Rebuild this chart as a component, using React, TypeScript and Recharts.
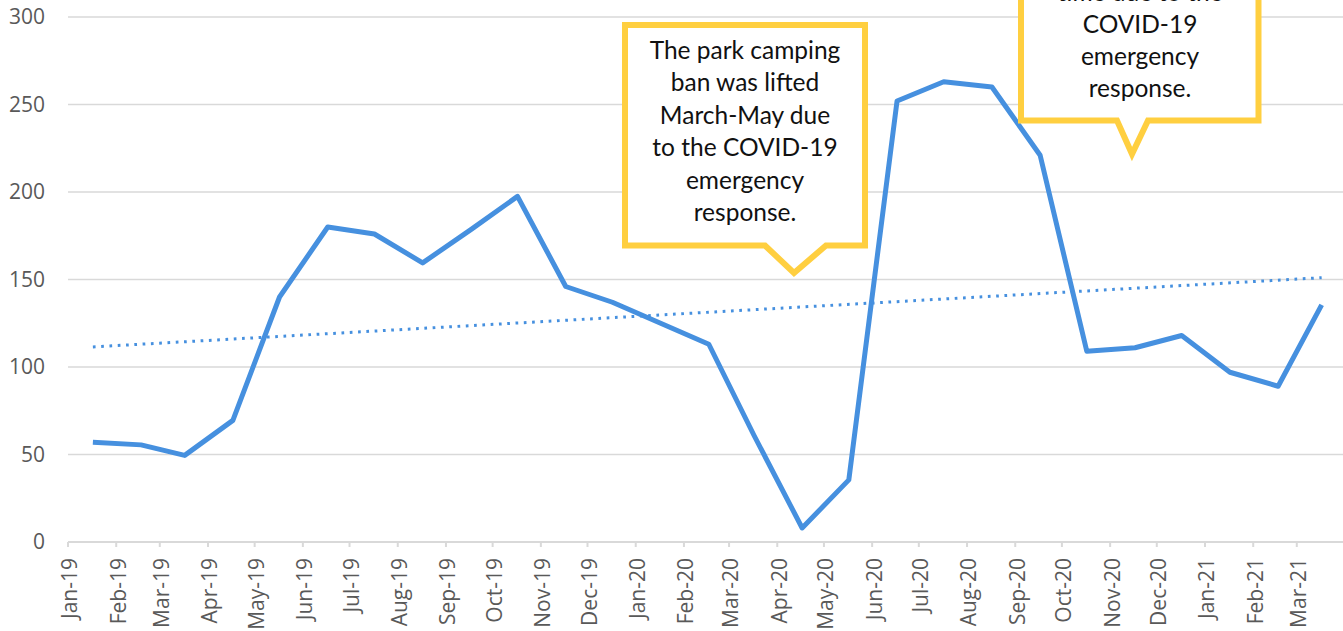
import React from 'react';
import { LineChart, Line, XAxis, YAxis, CartesianGrid } from 'recharts';

// Monthly camping counts, Jan-2019 .. Mar-2021 (points plotted mid-month on a date axis)
const months = [
  'Jan-19', 'Feb-19', 'Mar-19', 'Apr-19', 'May-19', 'Jun-19', 'Jul-19', 'Aug-19', 'Sep-19',
  'Oct-19', 'Nov-19', 'Dec-19', 'Jan-20', 'Feb-20', 'Mar-20', 'Apr-20', 'May-20', 'Jun-20',
  'Jul-20', 'Aug-20', 'Sep-20', 'Oct-20', 'Nov-20', 'Dec-20', 'Jan-21', 'Feb-21', 'Mar-21',
];
const visits = [
  57, 55.5, 49.5, 69.5, 140, 180, 176, 159.5, 178.5,
  197.5, 146, 137, 125, 113, 61, 8, 35.5, 252,
  263, 260, 221, 109, 111, 118, 97, 89, 135.5,
];
const yTicks = [0, 50, 100, 150, 200, 250, 300];
const axisEnd = 'Apr-21';
const pointDay = 17;

const callout1 = ['The park camping', 'ban was lifted', 'March-May due', 'to the COVID-19', 'emergency', 'response.'];
const callout2 = ['time due to the', 'COVID-19', 'emergency', 'response.'];

const MONTH_NAMES = ['Jan', 'Feb', 'Mar', 'Apr', 'May', 'Jun', 'Jul', 'Aug', 'Sep', 'Oct', 'Nov', 'Dec'];
const ORIGIN = Date.UTC(2019, 0, 1);

function dayOf(label: string, day: number) {
  const [m, y] = label.split('-');
  return (Date.UTC(2000 + Number(y), MONTH_NAMES.indexOf(m), day) - ORIGIN) / 86400000;
}

const data = months.map((m, i) => ({ month: m, day: dayOf(m, pointDay), value: visits[i] }));
const monthTicks = months.map((m) => dayOf(m, 1));
const tickLabel: Record<number, string> = {};
months.forEach((m, i) => (tickLabel[monthTicks[i]] = m));

// linear trendline (least squares)
const n = data.length;
const mx = data.reduce((s, d) => s + d.day, 0) / n;
const my = data.reduce((s, d) => s + d.value, 0) / n;
const slope =
  data.reduce((s, d) => s + (d.day - mx) * (d.value - my), 0) /
  data.reduce((s, d) => s + (d.day - mx) ** 2, 0);
const trend = [data[0], data[n - 1]].map((d) => ({ day: d.day, trend: my + slope * (d.day - mx) }));

const BLUE = '#4690DF';
const GOLD = '#FFCF40';
const OFFSET = 60;

function MonthTick({ x, y, payload }: any) {
  const ty = y + 9;
  return (
    <text
      x={x}
      y={ty}
      transform={`rotate(-90, ${x}, ${ty})`}
      textAnchor="end"
      dy="0.45em"
      fontSize={21}
      fontFamily="Open Sans"
      fill="#595959"
    >
      {tickLabel[payload.value]}
    </text>
  );
}

export default function App() {
  return (
    <div style={{ position: 'absolute', left: 0, top: 0, width: 1343, height: 631, overflow: 'hidden', background: '#fff' }}>
      <div style={{ position: 'absolute', left: 0, top: -OFFSET }}>
        <LineChart width={1360} height={631 + OFFSET} data={data} margin={{ top: 17 + OFFSET, right: 15, left: 0, bottom: 0 }}>
          <CartesianGrid vertical={false} stroke="#D9D9D9" strokeWidth={1.5} />
          <XAxis
            type="number"
            dataKey="day"
            domain={[0, dayOf(axisEnd, 1)]}
            ticks={monthTicks}
            interval={0}
            height={89}
            tick={<MonthTick />}
            tickSize={5}
            axisLine={{ stroke: '#D9D9D9', strokeWidth: 2 }}
            tickLine={{ stroke: '#D9D9D9', strokeWidth: 2 }}
            allowDataOverflow
          />
          <YAxis
            width={68}
            domain={[0, 300]}
            ticks={yTicks}
            interval={0}
            axisLine={false}
            tickLine={false}
            tickSize={0}
            tickMargin={23}
            tick={{ fill: '#595959', fontSize: 21, fontFamily: 'Open Sans' }}
          />
          <Line
            dataKey="value"
            stroke={BLUE}
            strokeWidth={5}
            dot={false}
            strokeLinejoin="round"
            isAnimationActive={false}
          />
          <Line
            data={trend}
            dataKey="trend"
            stroke={BLUE}
            strokeWidth={3}
            strokeDasharray="2.7 5.6"
            dot={false}
            isAnimationActive={false}
          />
        </LineChart>
      </div>

      {/* Callouts */}
      <svg width={1343} height={631} style={{ position: 'absolute', left: 0, top: 0 }}>
        <path
          d="M625 25 L865 25 L865 245.5 L826 245.5 L794 273 L765 245.5 L625 245.5 Z"
          fill="#fff"
          stroke={GOLD}
          strokeWidth={6}
        />
        {callout1.map((t, i) => (
          <text key={t} x={745} y={59 + i * 32.4} textAnchor="middle" fontFamily="Lato" fontSize={24.5} fill="#111">
            {t}
          </text>
        ))}
        <path
          d="M1021 -200 L1258.5 -200 L1258.5 120.5 L1148 120.5 L1132 154 L1117 120.5 L1021 120.5 Z"
          fill="#fff"
          stroke={GOLD}
          strokeWidth={6}
        />
        {callout2.map((t, i) => (
          <text key={t} x={1140} y={1 + i * 32} textAnchor="middle" fontFamily="Lato" fontSize={24.5} fill="#111">
            {t}
          </text>
        ))}
      </svg>
    </div>
  );
}
